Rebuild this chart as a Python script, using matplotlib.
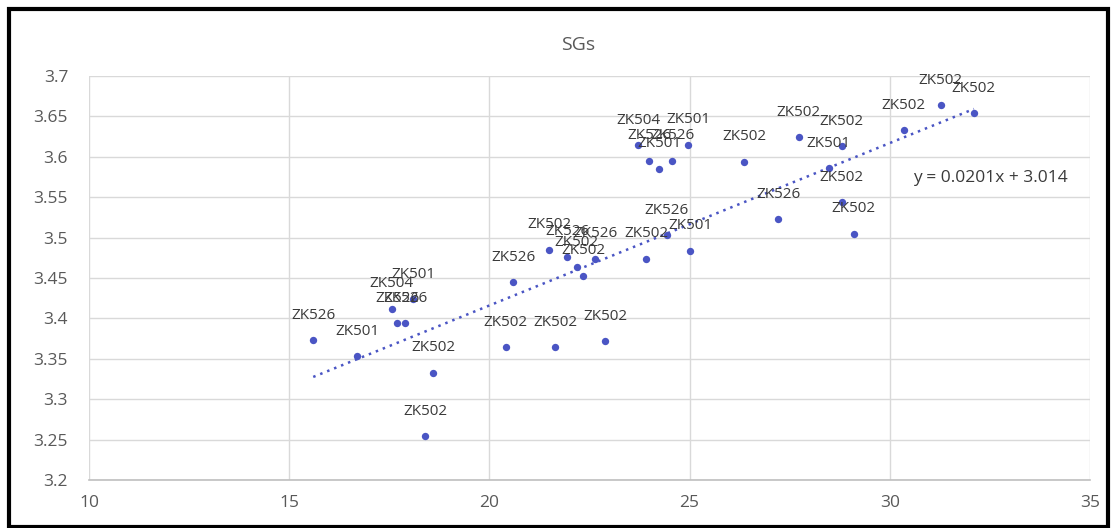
import matplotlib.pyplot as plt
from matplotlib.patches import Rectangle
import numpy as np

# Data
x_vals = [15.6, 16.7, 17.56, 18.1, 17.7, 17.9, 18.6, 18.4,
          20.6, 21.5, 21.95, 22.18, 22.35, 22.64, 23.91, 24.43, 25.01,
          20.41, 21.64, 22.89,
          23.71, 23.99, 24.24, 24.57, 24.97, 26.36,
          27.22, 27.72, 28.8, 28.47, 28.8, 29.1,
          30.35, 31.27, 32.1]
y_vals = [3.373, 3.353, 3.412, 3.424, 3.394, 3.394, 3.333, 3.254,
          3.445, 3.485, 3.476, 3.463, 3.453, 3.474, 3.474, 3.503, 3.484,
          3.364, 3.364, 3.372,
          3.614, 3.595, 3.585, 3.595, 3.615, 3.594,
          3.523, 3.624, 3.613, 3.586, 3.544, 3.505,
          3.633, 3.664, 3.654]
point_labels = ["ZK526", "ZK501", "ZK504", "ZK501", "ZK526", "ZK526", "ZK502", "ZK502",
                "ZK526", "ZK502", "ZK526", "ZK502", "ZK502", "ZK526", "ZK502", "ZK526", "ZK501",
                "ZK502", "ZK502", "ZK502",
                "ZK504", "ZK526", "ZK501", "ZK526", "ZK501", "ZK502",
                "ZK526", "ZK502", "ZK502", "ZK501", "ZK502", "ZK502",
                "ZK502", "ZK502", "ZK502"]

# Linear trend shown on the chart
slope = 0.0201
intercept = 3.014

x_ticks = [10, 15, 20, 25, 30, 35]
y_ticks = [3.2, 3.25, 3.3, 3.35, 3.4, 3.45, 3.5, 3.55, 3.6, 3.65, 3.7]
y_tick_labels = ["3.2", "3.25", "3.3", "3.35", "3.4", "3.45", "3.5",
                 "3.55", "3.6", "3.65", "3.7"]

plt.rcParams['font.family'] = ['Open Sans', 'DejaVu Sans']

W, H = 1111, 528
fig = plt.figure(figsize=(W / 100, H / 100), dpi=100)
ax = fig.add_axes([89 / W, 1 - 480 / H, (1090 - 89) / W, (480 - 76) / H])

point_color = '#4a55c4'
text_color = '#3a3a3a'
tick_color = '#595959'

# Trend line (dotted)
tx = np.array([min(x_vals), max(x_vals)])
ax.plot(tx, slope * tx + intercept, linestyle=(0, (1, 2)), linewidth=1.8,
        color='#4a55c4', zorder=2)

# Scatter points
ax.scatter(x_vals, y_vals, s=28, color=point_color, zorder=3, linewidths=0)

# Data labels above each point
for xv, yv, lab in zip(x_vals, y_vals, point_labels):
    ax.annotate(lab, (xv, yv), xytext=(0, 18), textcoords='offset points',
                ha='center', va='center', fontsize=11, color=text_color,
                zorder=4)

# Equation of the trend line
ax.text(32.5, 3.574, "y = 0.0201x + 3.014", ha='center', va='center',
        fontsize=12.5, color=text_color)

ax.set_xlim(10, 35)
ax.set_ylim(3.2, 3.7)
ax.set_xticks(x_ticks)
ax.set_yticks(y_ticks)
ax.set_yticklabels(y_tick_labels)
ax.tick_params(axis='both', length=0, labelsize=12.5, colors=tick_color)
ax.tick_params(axis='y', pad=15)
ax.tick_params(axis='x', pad=11)

ax.grid(True, color='#d9d9d9', linewidth=1)
ax.set_axisbelow(True)
for side in ['left', 'right', 'top']:
    ax.spines[side].set_visible(False)
ax.spines['bottom'].set_color('#bfbfbf')
ax.spines['bottom'].set_linewidth(1.2)

fig.text(578 / W, 1 - 45 / H, "SGs", ha='center', va='center',
         fontsize=14, color=tick_color)

# Black frame around the chart area
fig.patches.append(Rectangle((9 / W, 1 / H), (1108 - 9) / W, (527 - 9) / H,
                             transform=fig.transFigure, fill=False,
                             edgecolor='black', linewidth=3))

fig.savefig("out.png", dpi=100, facecolor='white')
